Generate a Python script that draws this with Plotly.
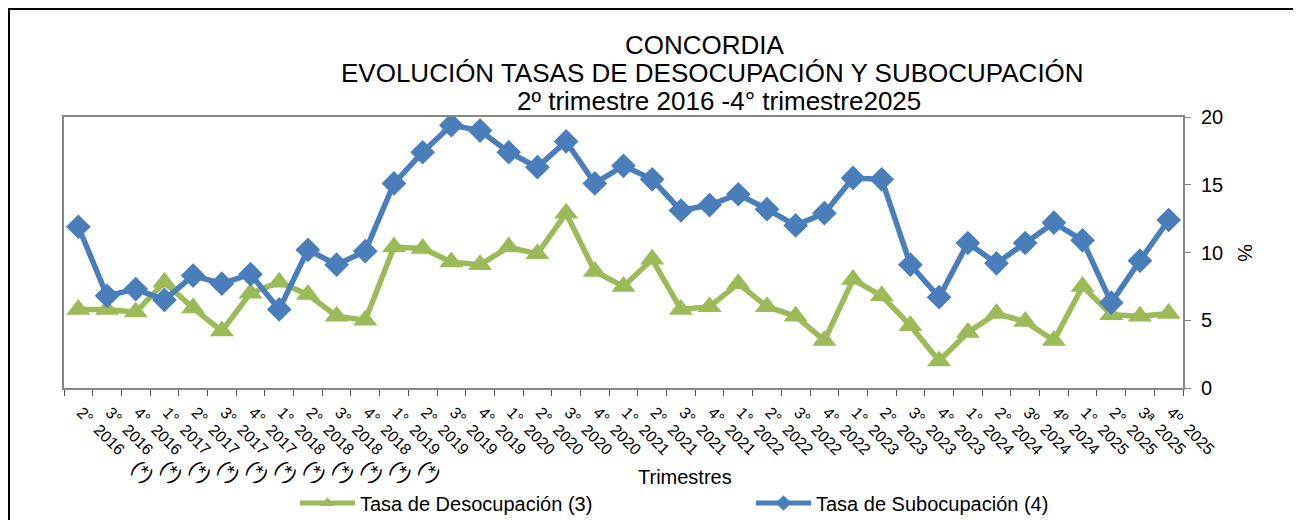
import plotly.graph_objects as go

quarters = ["2°", "3°", "4°",
            "1°", "2°", "3°", "4°",
            "1°", "2°", "3°", "4°",
            "1°", "2°", "3°", "4°",
            "1°", "2°", "3°", "4°",
            "1°", "2°", "3°", "4°",
            "1°", "2°", "3°", "4°",
            "1°", "2°", "3°", "4°",
            "1°", "2°", "3º", "4º",
            "1°", "2°", "3ª", "4º"]
years = ["2016"] * 3 + ["2017"] * 4 + ["2018"] * 4 + ["2019"] * 4 + ["2020"] * 4 + \
        ["2021"] * 4 + ["2022"] * 4 + ["2023"] * 4 + ["2024"] * 4 + ["2025"] * 4
notes = ["(*)"] * 11 + [""] * 28

desocupacion = [5.8, 5.8, 5.6, 7.8, 5.9, 4.2, 7.0, 7.8, 6.9, 5.3, 5.0,
                10.4, 10.3, 9.3, 9.1, 10.4, 9.9, 12.9, 8.6, 7.5, 9.5,
                5.8, 6.0, 7.7, 6.0, 5.3, 3.5, 8.0, 6.8, 4.6, 2.0,
                4.1, 5.5, 4.9, 3.5, 7.5, 5.4, 5.3, 5.5]
subocupacion = [11.9, 6.8, 7.3, 6.5, 8.3, 7.7, 8.4, 5.8, 10.2, 9.1, 10.1,
                15.1, 17.4, 19.4, 19.0, 17.4, 16.3, 18.2, 15.1, 16.4, 15.4,
                13.1, 13.5, 14.3, 13.2, 12.0, 12.9, 15.5, 15.4, 9.1, 6.7,
                10.7, 9.2, 10.7, 12.2, 10.9, 6.3, 9.4, 12.4]

NB = "\u00a0"
labels = []
ticktext = []
for q, y, n in zip(quarters, years, notes):
    lab = q + NB * 2 + y
    txt = lab
    if n:
        lab += NB * 3 + n
        txt += NB * 4 + '<span style="font-size:20px">' + n + '</span>'
    labels.append(lab)
    ticktext.append(txt)

GREEN = "#9BBB59"
BLUE = "#4A7EBB"
FONT = "Liberation Sans, Arial, sans-serif"

# the page puts the figure 8px in from the window corner
OFF = 8
# plot area in window pixels
L, R, T, B = 64 - OFF, 1183 - OFF, 117 - OFF, 388 - OFF
PW, PH = R - L, B - T


def px(xp):
    return (xp - OFF - L) / PW


def py(yp):
    return (B - (yp - OFF)) / PH


fig = go.Figure()
fig.add_trace(go.Scatter(
    x=labels, y=desocupacion, mode="lines+markers",
    name="Tasa de Desocupación (3)",
    line=dict(color=GREEN, width=5.5),
    marker=dict(symbol="triangle-up", size=21, color=GREEN),
))
fig.add_trace(go.Scatter(
    x=labels, y=subocupacion, mode="lines+markers",
    name="Tasa de Subocupación (4)",
    line=dict(color=BLUE, width=5.5),
    marker=dict(symbol="diamond", size=19, color=BLUE),
))

fig.update_layout(
    width=1301, height=520,
    margin=dict(l=L, r=1301 - R, t=T, b=520 - B, autoexpand=False),
    paper_bgcolor="white", plot_bgcolor="white",
    font=dict(family=FONT, size=20, color="black"),
    showlegend=True,
    legend=dict(orientation="h", x=px(295), xanchor="left", y=py(503), yanchor="middle",
                entrywidth=386, entrywidthmode="pixels", itemwidth=55,
                itemsizing="constant",
                font=dict(size=20), bgcolor="rgba(0,0,0,0)"),
    xaxis=dict(
        type="category", automargin=False, range=[-0.5, len(labels) - 0.5],
        tickmode="array", tickvals=labels, ticktext=ticktext,
        tickangle=45, tickfont=dict(size=16),
        ticklabelstandoff=7, ticklabelshift=3,
        showgrid=False, zeroline=False,
        showline=True, linecolor="#868686", linewidth=2, mirror=True,
        ticks="outside", tickson="boundaries", ticklen=6, tickcolor="#555555", tickwidth=1,
    ),
    yaxis=dict(
        range=[0, 20], dtick=5, side="right", automargin=False,
        showgrid=False, zeroline=False,
        showline=True, linecolor="#868686", linewidth=2, mirror=True,
        ticks="outside", ticklen=6, tickcolor="#868686", tickwidth=1,
        ticklabelstandoff=6,
        tickfont=dict(size=20),
    ),
)

# outer frame
fig.add_shape(type="rect", xref="paper", yref="paper",
              x0=px(9), x1=px(1400), y0=py(9), y1=py(700),
              line=dict(color="black", width=2), layer="below")

title_lines = [("CONCORDIA", 705, 45),
               ("EVOLUCIÓN TASAS DE DESOCUPACIÓN Y SUBOCUPACIÓN", 712, 73),
               ("2º trimestre 2016 -4° trimestre2025", 719, 101)]
for txt, cx, cy in title_lines:
    fig.add_annotation(text=txt, xref="paper", yref="paper",
                       x=px(cx), y=py(cy),
                       xanchor="center", yanchor="middle", showarrow=False,
                       font=dict(size=26, family=FONT))

fig.add_annotation(text="Trimestres", xref="paper", yref="paper",
                   x=px(685), y=py(477),
                   xanchor="center", yanchor="middle", showarrow=False,
                   font=dict(size=20, family=FONT))
fig.add_annotation(text="%", xref="paper", yref="paper",
                   x=px(1245), y=py(253),
                   xanchor="center", yanchor="middle", showarrow=False, textangle=90,
                   font=dict(size=20, family=FONT))

fig.write_html("out.html")
